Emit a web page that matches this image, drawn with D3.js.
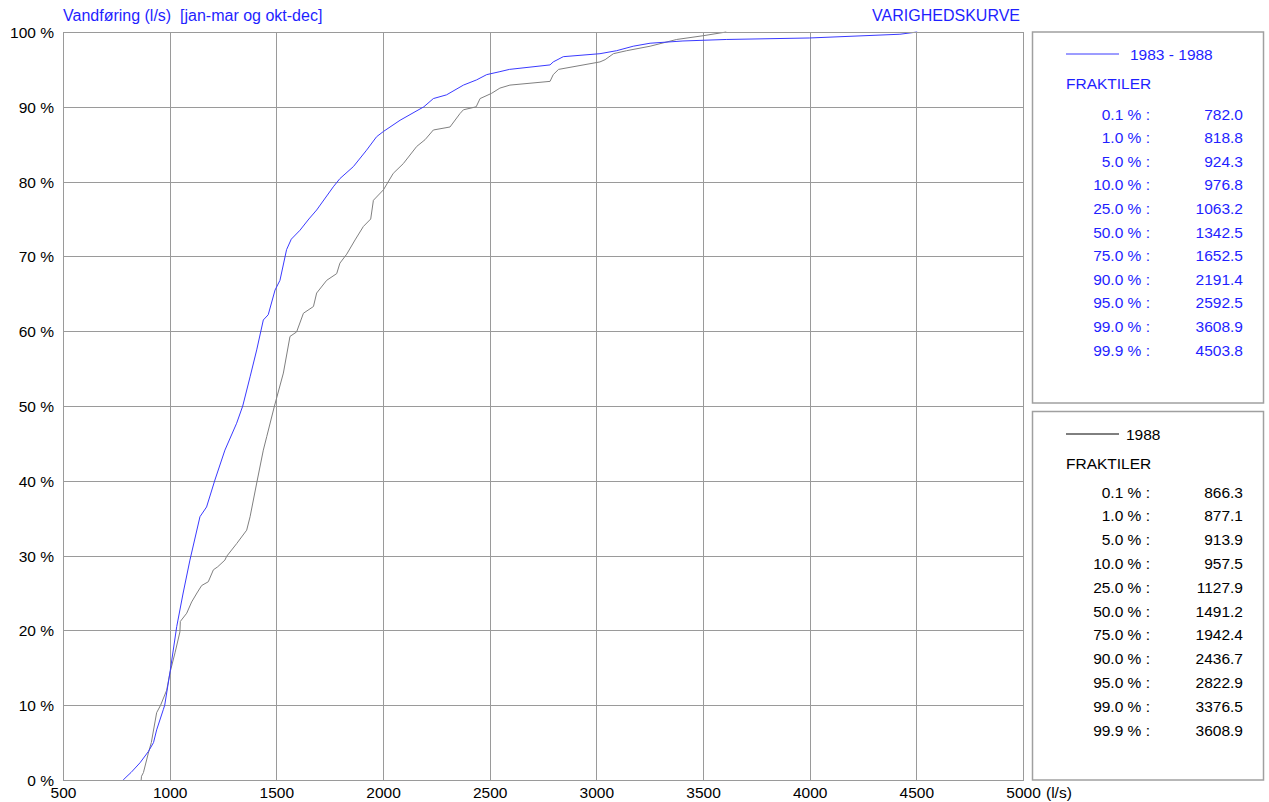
<!DOCTYPE html>
<html><head><meta charset="utf-8">
<script src="https://cdn.jsdelivr.net/npm/d3@7"></script>
<style>
body{margin:0;background:#fff;}
svg{display:block;}
text{font-family:"Liberation Sans",Arial,Helvetica,sans-serif;font-size:15.5px;white-space:pre;}
</style></head><body>
<svg id="c" width="1269" height="802"></svg>
<script>
// ---- data ----
const xTicks = [500,1000,1500,2000,2500,3000,3500,4000,4500,5000];
const yTicks = [0,10,20,30,40,50,60,70,80,90,100];

const blueFlow = [782,800,818.8,861,900,924.3,939,970,976.8,1001,1033,1063.2,1095,1142,1173,1212,1259,1314,1342.5,1377,1408,1439,1462,1494,1517,1548,1570,1611,1652.5,1689,1767,1798,1861,1923,1970,2002,2080,2191.4,2236,2298,2377,2439,2486,2548,2592.5,2783,2798,2845,3017,3095,3173,3252,3406,3608.9,4000,4423,4503.8];
const bluePct  = [0,0.5,1,2.3,3.8,5,6.7,9.4,10,14.3,20.5,25,29.4,35.2,36.5,40.1,44.1,47.7,50,53.9,57.5,61.5,62.2,65.5,66.8,70.9,72.3,73.5,75,76.2,79.3,80.4,82,84.2,86,86.7,88.2,90,91.1,91.6,92.9,93.6,94.3,94.7,95,95.6,96,96.7,97.1,97.5,98.1,98.5,98.8,99,99.2,99.7,100];

const grayFlow = [866.3,868,877.1,900,913.9,939,957.5,986,1001,1025,1048,1050,1080,1103,1127.9,1150,1181,1205,1225,1259,1267,1314,1361,1377,1408,1439,1455,1491.2,1533,1564,1595,1627,1674,1689,1736,1783,1798,1830,1869,1908,1942.4,1955,2002,2048,2095,2158,2197,2236,2314,2361,2377,2436.7,2455,2509,2548,2595,2783,2798,2822.9,3017,3041,3080,3142,3252,3376.5,3500,3608.9];
const grayPct  = [0,0.5,1,3.6,5,9,10,12,14.3,17,19.8,21.2,22.3,23.8,25,26,26.5,28.1,28.5,29.4,29.9,31.6,33.4,35.2,39.7,44.1,45.9,50,54.4,59.3,59.9,62.4,63.3,65.1,66.8,67.7,69.1,70.3,72.2,74,75,77.5,78.9,81.1,82.4,84.7,85.6,86.9,87.3,89.1,89.6,90,91.1,91.8,92.5,92.9,93.4,94.3,95,96,96.3,97.1,97.5,98.1,99,99.5,100];

const fraktilLabels = ["0.1 % :","1.0 % :","5.0 % :","10.0 % :","25.0 % :","50.0 % :","75.0 % :","90.0 % :","95.0 % :","99.0 % :","99.9 % :"];
const blueFraktiler = ["782.0","818.8","924.3","976.8","1063.2","1342.5","1652.5","2191.4","2592.5","3608.9","4503.8"];
const grayFraktiler = ["866.3","877.1","913.9","957.5","1127.9","1491.2","1942.4","2436.7","2822.9","3376.5","3608.9"];

// ---- layout ----
const svg = d3.select("#c");
const L = 63, R = 1023, T = 32, B = 780;
const BLUE = "#1f1fff", BLUE_LINE = "#3a3aff", GRAY_LINE = "#808080", GRID = "#9a9a9a";
const FS = 15.5;
const x = d3.scaleLinear().domain([500,5000]).range([L,R]);
const y = d3.scaleLinear().domain([0,100]).range([B,T]);

// grid
svg.append("g").selectAll("line.v").data(xTicks).join("line")
  .attr("x1",d=>Math.round(x(d))+0.5).attr("x2",d=>Math.round(x(d))+0.5)
  .attr("y1",T).attr("y2",B).attr("stroke",GRID).attr("stroke-width",1);
svg.append("g").selectAll("line.h").data(yTicks).join("line")
  .attr("y1",d=>Math.round(y(d))+0.5).attr("y2",d=>Math.round(y(d))+0.5)
  .attr("x1",L).attr("x2",R).attr("stroke",GRID).attr("stroke-width",1);

// axes labels
const xAxis = d3.axisBottom(x).tickValues(xTicks).tickSize(0).tickPadding(0).tickFormat(d=>d);
const gx = svg.append("g").attr("transform",`translate(0,${B})`).call(xAxis);
gx.select(".domain").remove();
gx.selectAll("text").attr("font-size",FS).attr("fill","#000").attr("dy",null).attr("y",17.5)
  .style("font-family",'"Liberation Sans",Arial,sans-serif');
svg.append("text").attr("x",x(5000)+23).attr("y",B+17.5).attr("fill","#000").text("(l/s)");

const yAxis = d3.axisLeft(y).tickValues(yTicks).tickSize(0).tickPadding(9).tickFormat(d=>d+" %");
const gy = svg.append("g").attr("transform",`translate(${L},0)`).call(yAxis);
gy.select(".domain").remove();
gy.selectAll("text").attr("font-size",FS).attr("fill","#000").attr("dy","0.35em")
  .style("font-family",'"Liberation Sans",Arial,sans-serif');

// titles
svg.append("text").attr("x",L).attr("y",21).attr("fill",BLUE).style("font-size","16px").text("Vandføring (l/s)  [jan-mar og okt-dec]");
svg.append("text").attr("x",1020).attr("y",21).attr("text-anchor","end").attr("fill",BLUE).style("font-size","16px").text("VARIGHEDSKURVE");

// curves
const line = d3.line().x(d=>x(d[0])).y(d=>y(d[1]));
svg.append("path").datum(d3.zip(grayFlow,grayPct)).attr("d",line)
  .attr("fill","none").attr("stroke",GRAY_LINE).attr("stroke-width",1);
svg.append("path").datum(d3.zip(blueFlow,bluePct)).attr("d",line)
  .attr("fill","none").attr("stroke",BLUE_LINE).attr("stroke-width",1);

// legend boxes
function legendBox(top, bottom, color, lineColor, label, values, lineY, fraktY, rowY0, rowStep){
  const g = svg.append("g");
  g.append("rect").attr("x",1032.5).attr("y",top).attr("width",231).attr("height",bottom-top)
    .attr("fill","none").attr("stroke","#a0a0a0").attr("stroke-width",1.5);
  g.append("line").attr("x1",1066).attr("x2",1119).attr("y1",lineY).attr("y2",lineY)
    .attr("stroke",lineColor).attr("stroke-width",1);
  g.append("text").attr("x",label==="1988"?1126:1130).attr("y",lineY+5.5).attr("fill",color).text(label);
  g.append("text").attr("x",1066).attr("y",fraktY+5.5).attr("fill",color).text("FRAKTILER");
  g.selectAll("text.l").data(fraktilLabels).join("text").attr("class","l")
    .attr("x",1150).attr("y",(d,i)=>rowY0+i*rowStep+5.5).attr("text-anchor","end").attr("fill",color).text(d=>d);
  g.selectAll("text.v").data(values).join("text").attr("class","v")
    .attr("x",1243).attr("y",(d,i)=>rowY0+i*rowStep+5.5).attr("text-anchor","end").attr("fill",color).text(d=>d);
}
legendBox(32, 403, BLUE, BLUE_LINE, "1983 - 1988", blueFraktiler, 54, 83, 114, 23.6);
legendBox(411.5, 780, "#000", "#000", "1988", grayFraktiler, 434, 463, 492, 23.8);

// frame
svg.append("rect").attr("x",L+0.5).attr("y",T+0.5).attr("width",R-L).attr("height",B-T)
  .attr("fill","none").attr("stroke",GRID).attr("stroke-width",1);
</script>
</body></html>
